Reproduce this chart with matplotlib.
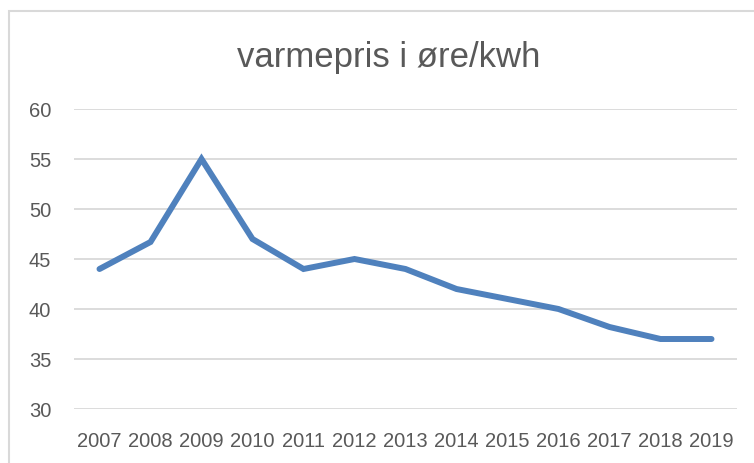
import matplotlib
matplotlib.use("Agg")
import matplotlib.pyplot as plt
from matplotlib.patches import Rectangle

years = ["2007", "2008", "2009", "2010", "2011", "2012", "2013",
         "2014", "2015", "2016", "2017", "2018", "2019"]
pris = [44, 46.7, 55, 47, 44, 45, 44, 42, 41, 40, 38.2, 37, 37]
yticks = [30, 35, 40, 45, 50, 55, 60]

grey = "#595959"
plt.rcParams["font.family"] = ["Liberation Sans", "DejaVu Sans"]
fig = plt.figure(figsize=(7.54, 4.64), dpi=100)

# chart frame (cut at right and bottom like the screenshot)
fig.patches.append(Rectangle((9 / 754, -0.05), 1.1, 1 - 12 / 464 + 0.05,
                             transform=fig.transFigure, fill=False,
                             edgecolor="#d9d9d9", lw=1.5))

ax = fig.add_axes([74 / 754, 1 - 410 / 464, (737 - 74) / 754, 300 / 464])
x = list(range(len(years)))
ax.plot(x, pris, color="#4F81BD", lw=4.3, solid_capstyle="round",
        solid_joinstyle="miter", zorder=3)

ax.set_xlim(-0.5, len(years) - 0.5)
ax.set_ylim(30, 60)
ax.set_yticks(yticks)
ax.set_xticks(x)
ax.set_xticklabels(years)
ax.grid(axis="y", color="#d9d9d9", lw=1.3)
ax.set_axisbelow(True)
for s in ax.spines.values():
    s.set_visible(False)
ax.tick_params(length=0, colors=grey, labelsize=14.5)
ax.tick_params(axis="y", pad=16.5)
ax.tick_params(axis="x", pad=16)

fig.text(389 / 754, 1 - 58 / 464, "varmepris i øre/kwh", ha="center", va="center",
         fontsize=25, color=grey)

fig.savefig("out.png", dpi=100)
